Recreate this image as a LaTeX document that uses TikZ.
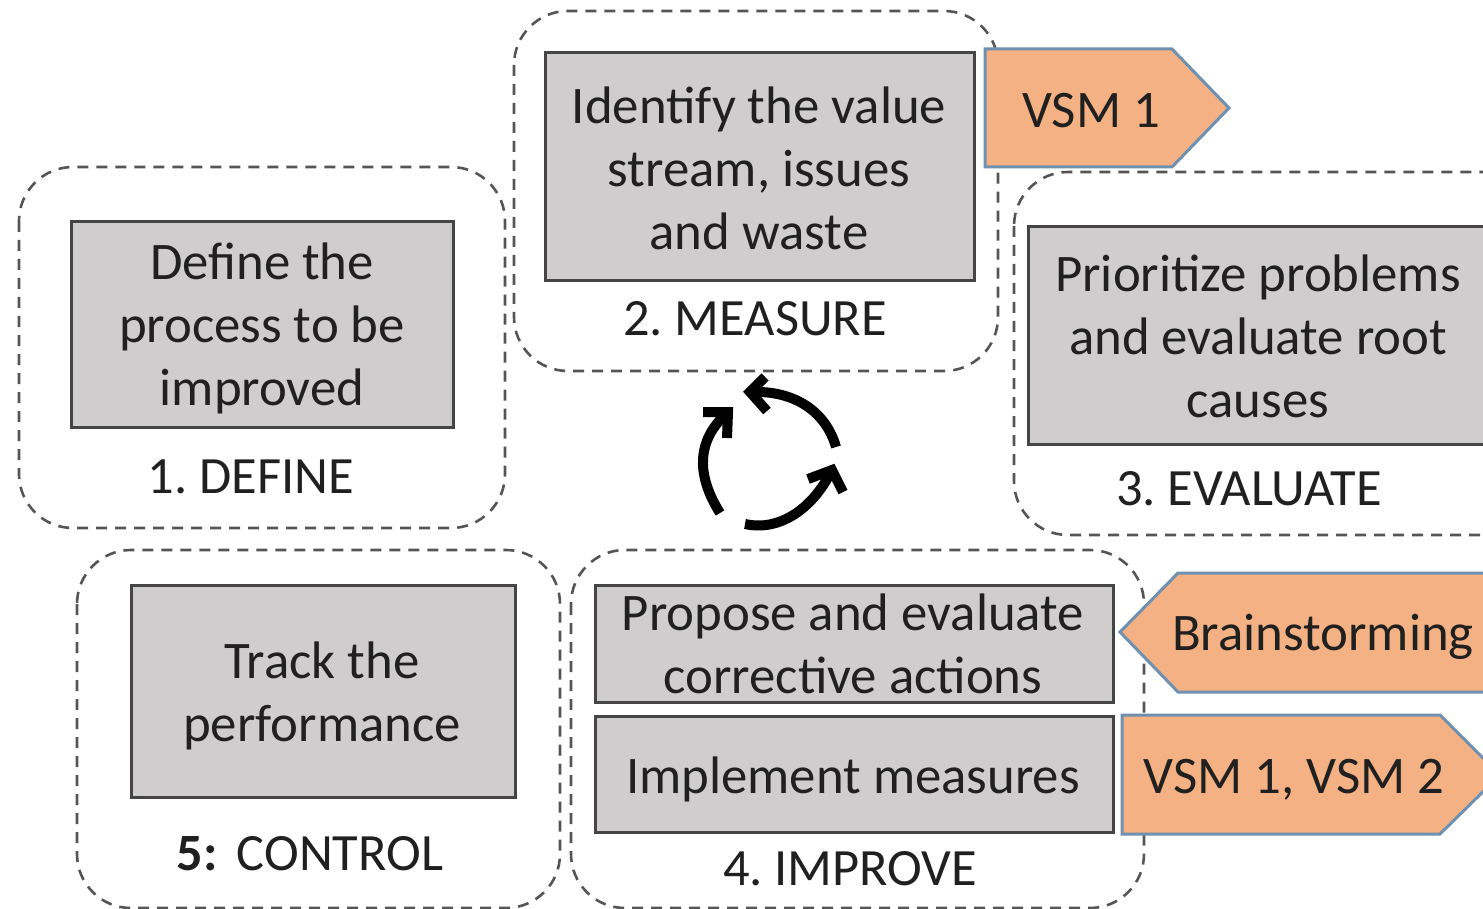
\documentclass[tikz,border=0pt]{standalone}
\usepackage{fontspec}
\setmainfont{Carlito}
\definecolor{boxgrey}{HTML}{CFCDCE}
\definecolor{boxedge}{HTML}{454545}
\definecolor{orangefill}{HTML}{F4B183}
\definecolor{blueedge}{HTML}{7090B0}
\definecolor{dashgrey}{HTML}{555555}
\definecolor{inktext}{HTML}{202020}
\tikzset{
  phase/.style={draw=dashgrey,line width=1.3pt,dash pattern=on 5.5pt off 4pt,rounded corners=27pt},
  greybox/.style={draw=boxedge,fill=boxgrey,line width=1.5pt,inner sep=0pt},
  boxtext/.style={inner sep=0pt,align=center,text=inktext,font=\fontsize{26.4}{31.5}\selectfont\frenchspacing},
  caption/.style={inner sep=0pt,text=inktext,font=\fontsize{26.2}{31.5}\selectfont\frenchspacing},
  tool/.style={draw=blueedge,fill=orangefill,line width=1.5pt,line join=miter},
  toollabel/.style={inner sep=0pt,text=inktext,font=\fontsize{26.4}{31.5}\selectfont\frenchspacing},
  cyc/.style={draw=black,line width=5pt},
  cychead/.style={draw=black,line width=5pt,line join=miter},
}
\begin{document}
\begin{tikzpicture}[x=0.5pt,y=-0.5pt]
\useasboundingbox (0,0) rectangle (1483,909);
\clip (0,0) rectangle (1483,909);
\fill[white] (0,0) rectangle (1483,909);
% dashed phase outlines
\draw[phase] (19,167) rectangle (505,528);
\draw[phase] (514,11) rectangle (998,371);
\draw[phase] (1014,172) rectangle (1540,535);
\draw[phase] (571,550) rectangle (1144,908);
\draw[phase] (77,550) rectangle (560,908);
% grey boxes
\node[greybox,minimum width=191pt,minimum height=102.5pt] (define) at (262,324.5) {};
\node[boxtext] (definetext) at (262,328) {Define the\\process to be\\improved};
\node[greybox,minimum width=214.5pt,minimum height=114pt] (identify) at (759.5,167) {};
\node[boxtext] (identifytext) at (759,168) {Identify the value\\stream, issues\\and waste};
\node[greybox,minimum width=231pt,minimum height=108.5pt] (prioritize) at (1259,335.5) {};
\node[boxtext] (prioritizetext) at (1258,336) {Prioritize problems\\and evaluate root\\causes};
\node[greybox,minimum width=259pt,minimum height=58.5pt] (propose) at (854,643.5) {};
\node[boxtext] (proposetext) at (853,644) {Propose and evaluate\\corrective actions};
\node[greybox,minimum width=259pt,minimum height=58pt] (implement) at (854,774) {};
\node[boxtext] (implementtext) at (853,779) {Implement measures};
\node[greybox,minimum width=192pt,minimum height=106pt] (track) at (323,691) {};
\node[boxtext] (tracktext) at (322,696) {Track the\\performance};
% captions
\node[caption] (cap1) at (251,477) {1. DEFINE};
\node[caption] (cap2) at (755,319) {2. MEASURE};
\node[caption] (cap3) at (1249,489) {3. EVALUATE};
\node[caption] (cap4) at (850,869) {4. IMPROVE};
\node[caption] (cap5) at (310,854) {\textbf{5:}\hspace{0.36em}CONTROL};
% tool tags
\draw[tool] (985,49) -- (1172,49) -- (1229,108) -- (1172,167) -- (985,167) -- cycle;
\node[toollabel] (vsma) at (1091,111) {VSM 1};
\draw[tool] (1120,632) -- (1178,573) -- (1540,573) -- (1540,692) -- (1178,692) -- cycle;
\node[toollabel] (brain) at (1323,637) {Brainstorming};
\draw[tool] (1122,715) -- (1440,715) -- (1500,775) -- (1440,834) -- (1122,834) -- cycle;
\node[toollabel] (vsmb) at (1294,780) {VSM 1, VSM 2};
% cycle arrows
\coordinate (atail) at (836,447);
\coordinate (atip) at (750,392);
\coordinate (awa) at (765,377);
\coordinate (awb) at (767,411);
\coordinate (btail) at (720,513);
\coordinate (btip) at (728,412);
\coordinate (bwa) at (703,412);
\coordinate (bwb) at (727,438);
\coordinate (ctail) at (745,524);
\coordinate (ctip) at (832,470);
\coordinate (cwa) at (808,479);
\coordinate (cwb) at (843,492);
\draw[cyc] (atail) .. controls (826,412) and (795,390) .. (atip);
\draw[cychead] (awa) -- (atip) -- (awb);
\draw[cyc] (btail) .. controls (698,478) and (694,442) .. (btip);
\draw[cychead] (bwa) -- (btip) -- (bwb);
\draw[cyc] (ctail) .. controls (775,531) and (810,514) .. (ctip);
\draw[cychead] (cwa) -- (ctip) -- (cwb);
\end{tikzpicture}
\end{document}
